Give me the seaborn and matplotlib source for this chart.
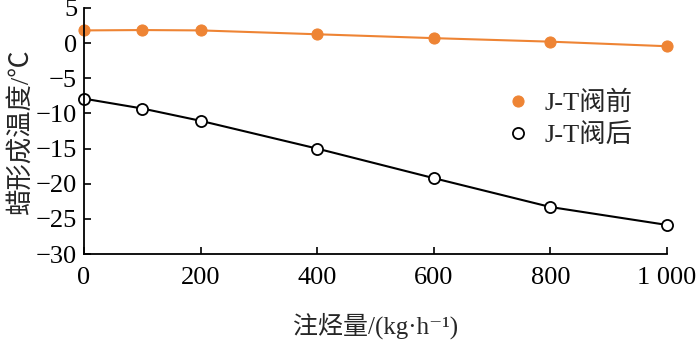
import matplotlib
matplotlib.use("Agg")
import matplotlib.pyplot as plt
import seaborn as sns
import pandas as pd

injection = [0, 100, 200, 400, 600, 800, 1000]
before_jt = [1.8, 1.85, 1.8, 1.25, 0.7, 0.2, -0.45]
after_jt = [-7.9, -9.3, -11.05, -15.0, -19.2, -23.3, -25.85]
series_names = ["J-T阀前", "J-T阀后"]
xticks = [0, 200, 400, 600, 800, 1000]
xtick_labels = ["0", "200", "400", "600", "800", "1 000"]
yticks = [5, 0, -5, -10, -15, -20, -25, -30]

sns.set_theme(style="ticks")
fams = ["Liberation Serif", "Noto Sans CJK SC", "DejaVu Serif"]
plt.rcParams["font.family"] = fams
plt.rcParams["axes.unicode_minus"] = True

df = pd.DataFrame({
    "x": injection * 2,
    "y": before_jt + after_jt,
    "s": [series_names[0]] * len(injection) + [series_names[1]] * len(injection),
})

fig = plt.figure(figsize=(7, 3.43), dpi=100)
ax = fig.add_axes([0.12, 0.259, 0.833, 0.718])

orange = "#EE8434"
sns.lineplot(data=df[df.s == series_names[0]], x="x", y="y", ax=ax, color=orange,
             lw=1.5, marker="o", markersize=8, markeredgecolor=orange,
             markerfacecolor=orange, label=series_names[0], clip_on=False)
sns.lineplot(data=df[df.s == series_names[1]], x="x", y="y", ax=ax, color="black",
             lw=1.5, marker="o", markersize=8, markeredgecolor="black",
             markerfacecolor="white", markeredgewidth=1.3, label=series_names[1],
             clip_on=False)

ax.set_xlim(0, 1000)
ax.set_ylim(-30, 5)
ax.set_xticks(xticks)
ax.set_xticklabels(xtick_labels)
ax.set_yticks(yticks)
ax.tick_params(direction="in", length=5, width=1.2, colors="black", labelsize=19)
for lab in ax.get_xticklabels() + ax.get_yticklabels():
    lab.set_family(fams)
ax.tick_params(axis="x", pad=9)
ax.tick_params(axis="y", pad=5)
sns.despine(ax=ax)
for sp in ["left", "bottom"]:
    ax.spines[sp].set_linewidth(1.3)
    ax.spines[sp].set_color("black")

ax.set_xlabel("注烃量/(kg·h⁻¹)", fontsize=18, family=fams, labelpad=17)
ax.set_ylabel("蜡形成温度/℃", fontsize=19, family=fams, labelpad=2)

leg = ax.legend(loc="upper left", bbox_to_anchor=(0.69, 0.76), frameon=False,
                handlelength=0.6, handletextpad=0.7, labelspacing=0.3,
                prop={"family": fams, "size": 19})
for h in leg.get_lines():
    h.set_linestyle("none")

fig.savefig("out.png", dpi=100)
